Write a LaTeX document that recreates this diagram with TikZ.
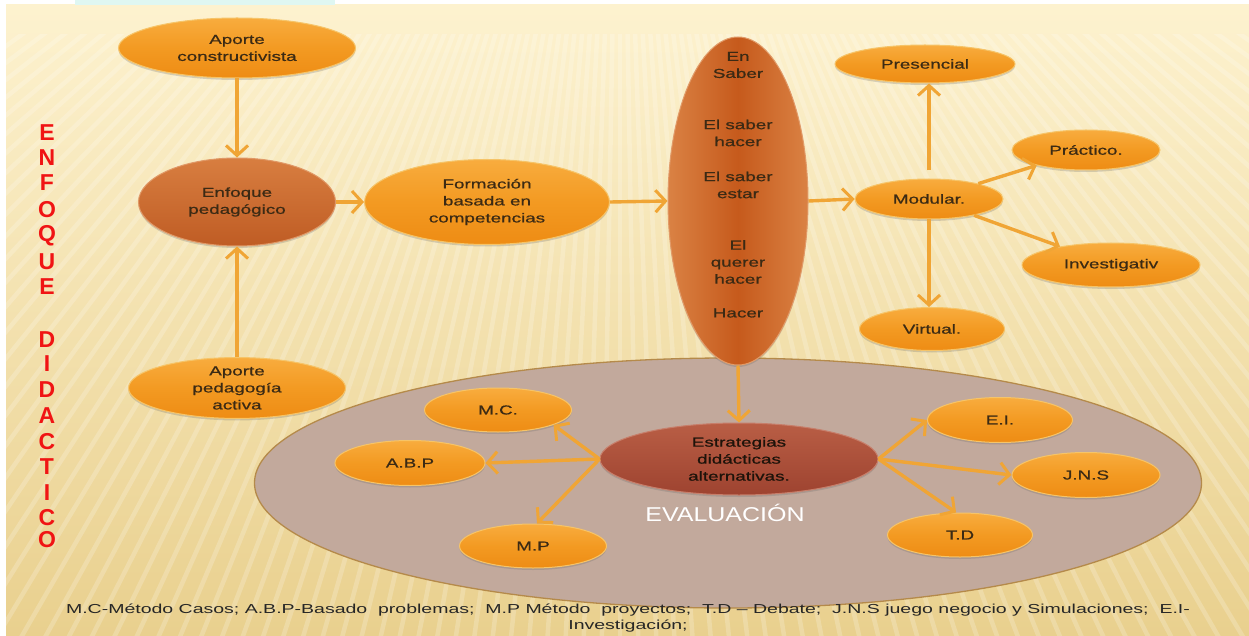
\documentclass[tikz,border=0pt]{standalone}
\usepackage{fontspec}
\setmainfont{Liberation Sans}
\newfontfamily\wf[FakeStretch=1.45,FakeBold=0.7]{Liberation Sans}
\newfontfamily\ft[FakeStretch=1.5]{Liberation Sans}
\newfontfamily\evf[FakeStretch=1.25]{Liberation Sans}
\usetikzlibrary{shapes.geometric,arrows.meta,shadows}
\definecolor{bgtop}{HTML}{FDF2CF}
\definecolor{bgbot}{HTML}{E9D08E}
\definecolor{arrc}{HTML}{F0A535}
\definecolor{otop}{HTML}{F8AC3E}
\definecolor{omid}{HTML}{F39A22}
\definecolor{obot}{HTML}{EE8C14}
\definecolor{oedge}{HTML}{F6C468}
\definecolor{txtc}{HTML}{3B2A14}
\definecolor{etop}{HTML}{D87E40}
\definecolor{ebot}{HTML}{BF5C24}
\definecolor{bigmid}{HTML}{C65A1C}
\definecolor{bigside}{HTML}{DA8244}
\definecolor{stop}{HTML}{B95E45}
\definecolor{sbot}{HTML}{9E4330}
\definecolor{evalc}{HTML}{C2A99C}
\definecolor{evaledge}{HTML}{B58A4A}
\definecolor{lettred}{HTML}{F01414}
\definecolor{cyanbox}{HTML}{DFF7F2}
\tikzset{
  shad/.style={drop shadow={shadow xshift=0pt, shadow yshift=-2pt, opacity=.25, fill=black!60}},
  oell/.style={ellipse, inner sep=0pt, align=center, top color=otop, bottom color=obot, middle color=omid,
     draw=oedge, line width=1pt, text=txtc, font=\wf\fontsize{13}{17}\selectfont, shad},
  dell/.style={ellipse, inner sep=0pt, align=center, line width=1pt,
     text=txtc, font=\wf\fontsize{13}{17}\selectfont, shad},
  arr/.style={draw=arrc, line width=3.4pt, -{Straight Barb[length=10pt,width=22pt,line width=3pt]}},
  bigtxt/.style={text=txtc, font=\wf\fontsize{13}{17}\selectfont, align=center, inner sep=0pt},
  lett/.style={text=lettred, font=\bfseries\fontsize{23}{25}\selectfont, inner sep=0pt}
}
\begin{document}
\begin{tikzpicture}[x=1pt,y=-1pt]
\useasboundingbox (0,0) rectangle (1249,636);
% background
\fill[white] (0,0) rectangle (1249,636);
\shade[top color=bgtop, bottom color=bgbot] (6,5) rectangle (1249,636);
\fill[cyanbox] (75,0) rectangle (335,5);
\begin{scope}
  \clip (6,35) rectangle (1249,636);
  \foreach \a in {-72,-71,...,72}
    \draw[white, opacity=.2, line width=4.5pt] (620,-400) -- ({620+1100*tan(\a)},700);
\end{scope}

% evaluation ellipse
\node[ellipse, fill=evalc, draw=evaledge, line width=1.3pt, minimum width=947pt, minimum height=250pt, inner sep=0pt] (eval) at (728,483) {};
\node[text=white, font=\evf\fontsize{20}{22}\selectfont, inner sep=0pt] (evlab) at (725,513) {EVALUACIÓN};

% left column
\node[oell, minimum width=237pt, minimum height=60pt] (apc) at (237,48) {Aporte\\constructivista};
\node[dell, top color=etop, bottom color=ebot, draw=etop!80!white, minimum width=197pt, minimum height=88pt] (enf) at (237,202) {Enfoque\\pedagógico};
\node[oell, minimum width=217pt, minimum height=60pt] (apa) at (237,388) {Aporte\\pedagogía\\activa};
\node[oell, minimum width=245pt, minimum height=85pt] (form) at (487,202) {Formación\\basada en\\competencias};

% big vertical ellipse
\node[ellipse, inner sep=0pt, left color=bigside, right color=bigside, middle color=bigmid,
      draw=bigside!80!white, line width=1pt, minimum width=140pt, minimum height=328pt, shad] (big) at (738,201) {};
\node[bigtxt] (b1) at (738,65) {En\\Saber};
\node[bigtxt] (b2) at (738,133) {El saber\\hacer};
\node[bigtxt] (b3) at (738,185) {El saber\\estar};
\node[bigtxt] (b4) at (738,262) {El\\querer\\hacer};
\node[bigtxt] (b5) at (738,313) {Hacer};

% right column
\node[oell, minimum width=180pt, minimum height=38pt] (pres) at (925,64) {Presencial};
\node[oell, minimum width=148pt, minimum height=40pt] (pract) at (1086,150) {Práctico.};
\node[oell, minimum width=148pt, minimum height=40pt] (mod) at (929,199) {Modular.};
\node[oell, minimum width=178pt, minimum height=44pt] (inv) at (1111,265) {Investigativ};
\node[oell, minimum width=145pt, minimum height=43pt] (virt) at (932,329) {Virtual.};

% strategies
\node[dell, top color=stop, bottom color=sbot, draw=stop!80!white, minimum width=278pt, minimum height=72pt, text=black!85!brown] (estr) at (739,459) {Estrategias\\didácticas\\alternativas.};
\node[oell, minimum width=147pt, minimum height=44pt] (mc) at (498,410) {M.C.};
\node[oell, minimum width=150pt, minimum height=45pt] (abp) at (410,463) {A.B.P};
\node[oell, minimum width=147pt, minimum height=44pt] (mp) at (533,546) {M.P};
\node[oell, minimum width=145pt, minimum height=45pt] (ei) at (1000,420) {E.I.};
\node[oell, minimum width=148pt, minimum height=45pt] (jns) at (1086,475) {J.N.S};
\node[oell, minimum width=145pt, minimum height=44pt] (td) at (960,535) {T.D};

% arrows
\draw[arr] (apc) -- (enf);
\draw[arr] (apa) -- (enf);
\draw[arr] (enf) -- (form);
\draw[arr] (form.east) -- (big.west);
\draw[arr] (big.east) -- (mod.west);
\draw[arr] ([yshift=8pt]mod.north) -- (mod.north |- pres.south);
\draw[arr] (mod) -- (pract);
\draw[arr] (mod) -- (inv);
\draw[arr] (mod.south) -- (mod.south |- virt.north);
\draw[arr] (big.south) -- (estr.north);
\draw[arr] (estr.west) -- (mc.-15);
\draw[arr] (estr.west) -- (abp.east);
\draw[arr] (estr.west) -- (mp.80);
\draw[arr] (estr.east) -- (ei.west);
\draw[arr] (estr.east) -- (jns.west);
\draw[arr] (estr.east) -- (td.100);

% vertical red title
\foreach \ch/\yy [count=\i] in {E/133,N/158,F/183,O/210,Q/236,U/262,E/287,D/340,I/364,D/390,A/416,C/442,T/467,I/493,C/518,O/540}
  \node[lett] (t\i) at (47,\yy) {\ch};

% footer
\node[text=black!85, font=\ft\fontsize{13}{16}\selectfont, align=center, inner sep=0pt] (foot) at (628,618)
 {M.C-Método Casos; A.B.P-Basado~ problemas;~ M.P Método~ proyectos;~ T.D – Debate;~ J.N.S juego negocio y Simulaciones;~ E.I-\\Investigación;};
\end{tikzpicture}
\end{document}
